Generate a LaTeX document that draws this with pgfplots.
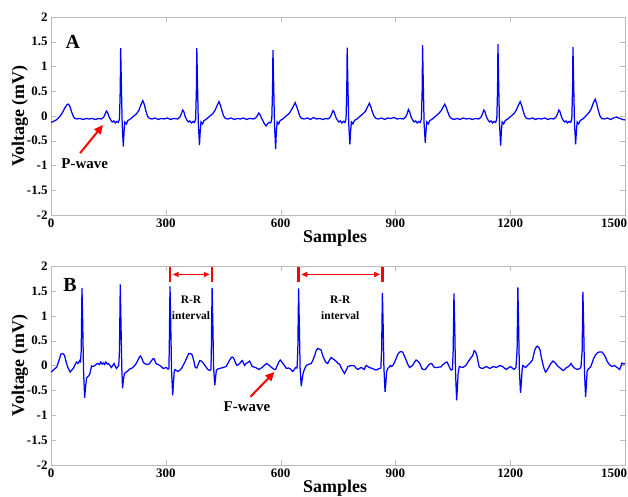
\documentclass[border=0pt]{standalone}
\usepackage{fontspec}
\setmainfont{Liberation Serif}
\usepackage{pgfplots}
\pgfplotsset{compat=1.18}
\usetikzlibrary{arrows.meta}

\pgfplotsset{
  ecg/.style={
    scale only axis, width=574bp,
    xmin=0, xmax=1500, ymin=-2, ymax=2,
    xtick={0,300,600,900,1200,1500},
    xticklabels={0,300,600,900,1200,{\hspace*{4bp}\makebox[0pt][r]{1500}}},
    ytick={-2,-1.5,-1,-0.5,0,0.5,1,1.5,2},
    yticklabels={-2,-1.5,-1,-0.5,0,0.5,1,1.5,2},
    tick align=inside, major tick length=5bp,
    axis line style={gray!55}, tick style={gray!55},
    ticklabel style={font=\fontsize{13}{15}\selectfont\bfseries},
    label style={font=\fontsize{18}{20}\selectfont\bfseries},
    xlabel={Samples}, ylabel={Voltage (mV)},
    xlabel style={at={(axis description cs:0.495,-0.115)}, anchor=center},
    ylabel style={at={(axis description cs:-0.054,0.5)}, anchor=center},
    clip=false,
  },
  ecgline/.style={blue, line width=1.25bp},
}

\begin{document}
\begin{tikzpicture}
\path[use as bounding box] (-51bp,-282bp) rectangle (577bp,215bp);

% panel A: normal sinus rhythm
\begin{axis}[ecg, height=198bp, at={(0,0)}, anchor=south west]
\addplot[ecgline] coordinates {
(0,-0.13) (6,-0.11) (12,-0.09) (18,-0.05) (24,0.0) (30,0.07) (36,0.16) (42,0.23) (46,0.24) (50,0.18) (54,0.08) (58,0.0) (62,-0.05) (68,-0.06) (76,-0.05) (84,-0.07) (92,-0.05) (100,-0.06) (108,-0.05) (116,-0.07) (124,-0.05)
(132,-0.06) (138,-0.02) (142,0.05) (145,0.10) (148,0.07) (152,-0.02) (156,-0.08) (160,-0.12) (164,-0.10) (168,-0.14) (172,-0.11) (176,-0.13) (179,-0.06) (181,0.55) (182,1.37) (184,0.6) (186,-0.15) (189,-0.62) (191,-0.3) (193,-0.12) (197,-0.16) (201,-0.09) (206,-0.07) (212,-0.03) (218,0.01) (224,0.05) (230,0.12) (235,0.23) (240,0.31) (244,0.23) (248,0.1) (252,0.0) (257,-0.05) (264,-0.06) (272,-0.04) (280,-0.07) (288,-0.05) (296,-0.06) (304,-0.04) (312,-0.07) (320,-0.05)
(331,-0.06) (337,-0.02) (341,0.05) (344,0.12) (347,0.09) (351,-0.02) (355,-0.08) (359,-0.12) (363,-0.10) (367,-0.14) (371,-0.11) (375,-0.13) (378,-0.06) (380,0.55) (381,1.37) (383,0.6) (385,-0.15) (388,-0.59) (390,-0.3) (392,-0.12) (396,-0.16) (400,-0.09) (405,-0.07) (411,-0.03) (417,0.01) (423,0.05) (429,0.12) (434,0.21) (439,0.29) (443,0.21) (447,0.1) (451,0.0) (456,-0.05) (463,-0.06) (471,-0.04) (479,-0.07) (487,-0.05) (495,-0.06) (503,-0.04) (511,-0.07) (519,-0.05)
(530,-0.06) (536,-0.03) (540,0.02) (543,0.06) (546,0.03) (550,-0.04) (554,-0.1) (558,-0.16) (562,-0.2) (566,-0.16) (570,-0.13) (574,-0.14) (577,-0.06) (579,0.55) (580,1.33) (582,0.6) (584,-0.15) (587,-0.67) (589,-0.3) (591,-0.12) (595,-0.16) (599,-0.09) (604,-0.07) (610,-0.03) (616,0.01) (622,0.05) (628,0.12) (633,0.19) (638,0.27) (642,0.19) (646,0.1) (650,0.0) (655,-0.05) (662,-0.06) (670,-0.04) (678,-0.07) (686,-0.03) (694,-0.06) (702,-0.05) (710,-0.07) (718,-0.05)
(724,-0.06) (730,-0.02) (734,0.05) (737,0.11) (740,0.08) (744,-0.02) (748,-0.08) (752,-0.12) (756,-0.10) (760,-0.14) (764,-0.11) (768,-0.13) (771,-0.06) (773,0.55) (774,1.38) (776,0.6) (778,-0.15) (781,-0.57) (783,-0.3) (785,-0.12) (789,-0.16) (793,-0.09) (798,-0.07) (804,-0.03) (810,0.01) (816,0.05) (822,0.1) (827,0.18) (832,0.26) (836,0.18) (840,0.08) (844,0.0) (849,-0.05) (856,-0.06) (864,-0.04) (872,-0.07) (880,-0.04) (888,-0.05) (896,-0.03) (904,-0.06) (912,-0.05)
(921,-0.06) (927,-0.02) (931,0.05) (934,0.13) (937,0.09) (941,-0.02) (945,-0.08) (949,-0.12) (953,-0.10) (957,-0.14) (961,-0.11) (965,-0.13) (968,-0.06) (970,0.55) (971,1.43) (973,0.6) (975,-0.15) (978,-0.54) (980,-0.3) (982,-0.12) (986,-0.16) (990,-0.09) (995,-0.07) (1001,-0.03) (1007,0.01) (1013,0.05) (1019,0.1) (1024,0.17) (1029,0.24) (1033,0.17) (1037,0.08) (1041,0.0) (1046,-0.05) (1053,-0.07) (1061,-0.05) (1069,-0.07) (1077,-0.04) (1085,-0.06) (1093,-0.05) (1101,-0.07) (1109,-0.05)
(1118,-0.06) (1124,-0.02) (1128,0.05) (1131,0.12) (1134,0.09) (1138,-0.02) (1142,-0.08) (1146,-0.12) (1150,-0.10) (1154,-0.14) (1158,-0.11) (1162,-0.13) (1165,-0.06) (1167,0.55) (1168,1.45) (1170,0.6) (1172,-0.15) (1175,-0.60) (1177,-0.3) (1179,-0.12) (1183,-0.16) (1187,-0.09) (1192,-0.07) (1198,-0.03) (1204,0.01) (1210,0.05) (1216,0.12) (1221,0.21) (1226,0.29) (1230,0.21) (1234,0.1) (1238,0.0) (1243,-0.05) (1250,-0.06) (1258,-0.04) (1266,-0.07) (1274,-0.05) (1282,-0.06) (1290,-0.04) (1298,-0.07) (1306,-0.05)
(1314,-0.06) (1320,-0.02) (1324,0.05) (1327,0.12) (1330,0.09) (1334,-0.02) (1338,-0.08) (1342,-0.12) (1346,-0.10) (1350,-0.14) (1354,-0.11) (1358,-0.13) (1361,-0.06) (1363,0.55) (1364,1.39) (1366,0.6) (1368,-0.15) (1371,-0.57) (1373,-0.3) (1375,-0.12) (1379,-0.16) (1383,-0.09) (1388,-0.07) (1394,-0.03) (1400,0.02) (1406,0.07) (1412,0.15) (1417,0.26) (1422,0.34) (1426,0.25) (1430,0.12) (1434,0.01) (1439,-0.05) (1446,-0.06) (1454,-0.04) (1462,-0.07) (1470,-0.04) (1478,-0.02) (1486,-0.05) (1494,-0.07) (1500,-0.08)
};
\node[font=\fontsize{20}{22}\selectfont\bfseries] at (axis cs:57,1.5) {A};
\node[font=\fontsize{15}{17}\selectfont\bfseries] at (axis cs:88,-0.96) {P-wave};
\draw[red, line width=2bp, -{Triangle[length=9bp,width=8bp]}] (axis cs:76,-0.75) -- (axis cs:136,-0.18);
\end{axis}

% panel B: atrial fibrillation
\begin{axis}[ecg, height=199bp, at={(0,-250bp)}, anchor=south west]
\node[font=\fontsize{11.5}{15.5}\selectfont\bfseries, align=center] at (axis cs:366,1.16) {R-R\\interval};
\node[font=\fontsize{11.5}{15.5}\selectfont\bfseries, align=center] at (axis cs:756,1.16) {R-R\\interval};
\addplot[ecgline] coordinates {
(0,-0.13) (8,-0.08) (15,-0.03) (20,0.08) (26,0.23) (31,0.24) (35,0.21) (40,0.06) (44,-0.04) (50,-0.13) (58,-0.06) (64,0.03) (67,0.07) (71,0.04) (75,0.10) (77,0.08) (79,0.3) (81,1.56) (83,0.8) (85,-0.1) (88,-0.65) (90,-0.45) (93,-0.25) (97,-0.22) (101,-0.18) (106,-0.01) (110,-0.02) (115,0.0) (119,0.03) (123,0.04) (127,0.02) (130,0.07) (134,0.03) (137,0.05) (140,0.02) (143,0.07) (147,0.03) (150,0.04) (154,0.0) (158,-0.04) (162,0.01) (165,0.04) (168,-0.02) (171,-0.06) (174,-0.03) (177,0.0)
(179,0.3) (181,1.63) (183,0.8) (185,-0.05) (187,-0.46) (189,-0.3) (192,-0.16) (197,-0.13) (202,-0.10) (206,-0.07) (210,-0.06) (215,-0.03) (219,0.0) (224,0.06) (228,0.12) (231,0.17) (234,0.19) (237,0.15) (241,0.07) (244,0.04) (248,0.03) (253,0.02) (258,0.04) (261,0.08) (264,0.11) (267,0.14) (270,0.13) (273,0.06) (276,0.03) (280,0.02) (284,0.0) (288,-0.02) (293,-0.06) (297,-0.05) (302,-0.04) (305,-0.07) (308,-0.07)
(309,0.3) (311,1.59) (313,0.8) (315,-0.1) (318,-0.60) (320,-0.35) (322,-0.12) (324,-0.08) (328,-0.10) (332,-0.12) (336,-0.10) (341,-0.06) (345,0.0) (350,0.07) (355,0.16) (360,0.24) (365,0.24) (369,0.21) (373,0.1) (377,-0.04) (381,-0.05) (385,0.03) (389,0.10) (393,0.09) (398,0.05) (402,0.0) (406,-0.04) (410,-0.08) (415,-0.10) (418,-0.08)
(419,0.3) (421,1.56) (423,0.8) (425,-0.05) (428,-0.40) (430,-0.25) (432,-0.1) (436,-0.07) (441,-0.06) (445,-0.05) (450,-0.04) (454,-0.03) (458,-0.02) (462,0.04) (467,0.11) (471,0.16) (474,0.17) (477,0.15) (480,0.10) (483,0.04) (486,0.0) (490,0.02) (493,0.04) (497,0.08) (500,0.10) (503,0.05) (506,0.0) (509,0.03) (512,0.05) (516,0.07) (519,0.09) (522,0.04) (526,-0.02) (530,-0.03) (535,-0.04) (539,-0.06) (543,-0.08) (547,-0.06) (552,-0.04) (557,0.0) (563,0.04) (567,0.02) (571,0.0) (575,-0.03) (580,-0.06) (584,-0.08) (587,-0.08) (590,-0.02) (593,0.03) (596,0.08) (599,0.11) (602,0.08) (606,0.04) (610,0.0) (615,-0.06) (620,-0.05) (624,-0.06) (628,-0.09) (632,-0.12) (636,-0.08) (639,-0.04) (643,-0.05)
(645,0.3) (647,1.55) (649,0.8) (651,-0.05) (654,-0.42) (656,-0.3) (659,-0.15) (663,-0.06) (667,0.0) (672,0.02) (676,0.03) (680,0.04) (684,0.1) (689,0.2) (693,0.3) (697,0.34) (702,0.33) (706,0.31) (710,0.2) (715,0.11) (719,0.06) (723,0.04) (727,0.1) (732,0.16) (736,0.14) (741,0.11) (746,0.08) (750,0.04) (754,0.03) (758,-0.04) (762,-0.10) (767,-0.16) (771,-0.10) (776,-0.02) (780,-0.01) (785,0.0) (789,0.0) (793,-0.01) (797,-0.05) (802,-0.08) (806,-0.06) (810,-0.04) (815,-0.06) (819,-0.08) (821,-0.03) (824,0.0) (828,-0.02) (832,-0.04) (836,-0.05) (840,-0.06) (845,-0.08) (849,-0.09) (853,-0.08) (858,-0.06) (862,-0.05)
(864,0.3) (866,1.46) (868,0.8) (870,-0.05) (873,-0.53) (875,-0.35) (877,-0.12) (880,-0.06) (884,-0.03) (887,0.0) (890,-0.02) (893,0.0) (897,0.05) (902,0.14) (906,0.22) (911,0.27) (915,0.28) (919,0.27) (923,0.2) (928,0.11) (932,0.03) (937,-0.04) (941,-0.02) (945,0.0) (950,0.07) (954,0.11) (958,0.09) (963,0.05) (966,0.0) (969,-0.06) (973,-0.08) (978,-0.08) (982,-0.04) (986,0.0) (990,0.03) (995,0.04) (998,0.0) (1002,-0.04) (1006,-0.04) (1010,-0.04) (1015,-0.03) (1019,-0.03) (1023,0.01) (1028,0.04) (1031,0.06) (1035,0.07) (1038,0.02) (1041,-0.03) (1045,-0.09) (1049,-0.08)
(1051,0.3) (1053,1.45) (1055,0.8) (1057,-0.1) (1060,-0.70) (1062,-0.45) (1064,-0.15) (1067,-0.02) (1071,-0.03) (1076,-0.04) (1080,-0.02) (1084,0.0) (1088,0.05) (1093,0.11) (1097,0.15) (1102,0.2) (1106,0.30) (1109,0.28) (1113,0.2) (1116,0.08) (1119,-0.03) (1123,-0.05) (1128,-0.06) (1133,-0.04) (1138,-0.02) (1142,-0.04) (1147,-0.06) (1151,-0.04) (1156,-0.02) (1160,-0.03) (1164,-0.04) (1168,-0.02) (1173,0.0) (1177,-0.01) (1182,-0.03) (1186,-0.06) (1190,-0.08) (1195,-0.05) (1201,-0.02) (1205,-0.05) (1210,-0.08) (1215,-0.04)
(1218,0.3) (1220,1.57) (1222,0.8) (1224,-0.1) (1227,-0.55) (1229,-0.35) (1231,-0.1) (1233,0.0) (1236,-0.02) (1240,-0.04) (1244,-0.01) (1249,0.03) (1253,0.06) (1258,0.11) (1261,0.2) (1264,0.31) (1268,0.37) (1271,0.39) (1275,0.36) (1278,0.31) (1281,0.18) (1284,0.07) (1288,-0.05) (1292,-0.13) (1296,-0.10) (1301,-0.03) (1306,0.04) (1312,0.09) (1317,0.06) (1323,0.0) (1327,-0.03) (1332,-0.06) (1336,-0.09) (1339,-0.10) (1343,-0.07) (1347,-0.04) (1353,-0.02) (1356,0.01) (1359,0.04) (1362,0.0) (1366,-0.04) (1370,-0.06) (1375,-0.08) (1379,-0.07) (1382,-0.06) (1385,-0.03)
(1388,0.3) (1390,1.48) (1392,0.8) (1394,-0.1) (1397,-0.63) (1399,-0.4) (1401,-0.12) (1403,-0.08) (1407,-0.05) (1410,-0.03) (1414,0.05) (1418,0.14) (1423,0.21) (1427,0.25) (1432,0.27) (1436,0.27) (1440,0.27) (1444,0.23) (1449,0.17) (1453,0.09) (1458,0.03) (1462,0.0) (1466,-0.02) (1469,-0.01) (1472,0.0) (1476,-0.02) (1479,-0.04) (1483,-0.06) (1486,-0.08) (1489,-0.02) (1492,0.05) (1496,0.03) (1500,0.04)
};
\node[font=\fontsize{20}{22}\selectfont\bfseries] at (axis cs:50,1.61) {B};
\node[font=\fontsize{15}{17}\selectfont\bfseries] at (axis cs:512,-0.83) {F-wave};
\draw[red, line width=2bp, -{Triangle[length=9bp,width=8bp]}] (axis cs:521,-0.63) -- (axis cs:584,-0.13);
% R-R interval markers
\draw[red, line width=2.5bp] (axis cs:311,1.68) -- (axis cs:311,1.99);
\draw[red, line width=2.5bp] (axis cs:421,1.68) -- (axis cs:421,1.99);
\draw[red, line width=1.5bp, {Triangle[length=6bp,width=5bp]}-{Triangle[length=6bp,width=5bp]}] (axis cs:318,1.83) -- (axis cs:415,1.83);
\draw[red, line width=2.5bp] (axis cs:647,1.68) -- (axis cs:647,1.99);
\draw[red, line width=2.5bp] (axis cs:866,1.68) -- (axis cs:866,1.99);
\draw[red, line width=1.5bp, {Triangle[length=6bp,width=5bp]}-{Triangle[length=6bp,width=5bp]}] (axis cs:654,1.83) -- (axis cs:860,1.83);
\end{axis}
\end{tikzpicture}
\end{document}
